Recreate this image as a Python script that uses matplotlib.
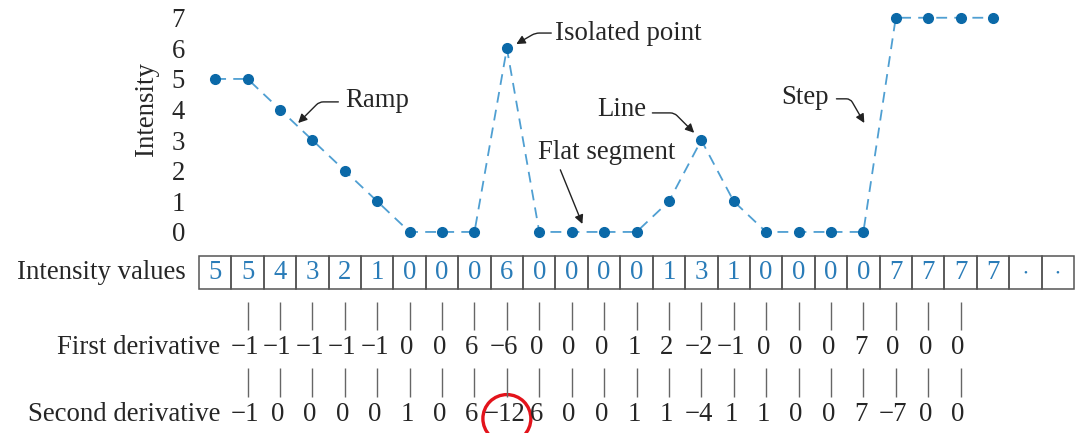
import matplotlib
matplotlib.use('Agg')
import matplotlib.pyplot as plt
from matplotlib.patches import Rectangle, Ellipse

# --- Data ---
intensity = [5, 5, 4, 3, 2, 1, 0, 0, 0, 6, 0, 0, 0, 0, 1, 3, 1, 0, 0, 0, 0, 7, 7, 7, 7]
cell_labels = ['5', '5', '4', '3', '2', '1', '0', '0', '0', '6', '0', '0', '0', '0',
               '1', '3', '1', '0', '0', '0', '0', '7', '7', '7', '7', '•', '•']
first_deriv = [-1, -1, -1, -1, -1, 0, 0, 6, -6, 0, 0, 0, 1, 2, -2, -1, 0, 0, 0, 7, 0, 0, 0]
second_deriv = [-1, 0, 0, 0, 0, 1, 0, 6, -12, 6, 0, 0, 1, 1, -4, 1, 1, 0, 0, 7, -7, 0, 0]
y_ticks = [0, 1, 2, 3, 4, 5, 6, 7]

# --- Style ---
plt.rcParams['font.family'] = ['Liberation Serif', 'DejaVu Serif']
TEXT = '#262626'
DOT = '#0b69a8'
LINE = '#4f9fd2'
CELL_TXT = '#2a7cb8'
FS = 19.3


def fmt(v):
    return str(v).replace('-', '\u2212')


fig = plt.figure(figsize=(10.76, 4.33), dpi=100)
ax = fig.add_axes([199 / 1076, 0, 875 / 1076, 1])
ax.set_xlim(-0.5, 26.5)
ax.set_ylim(-6.57, 7.58)
for s in ax.spines.values():
    s.set_visible(False)

# intensity profile
xs = list(range(len(intensity)))
ax.plot(xs, intensity, color=LINE, lw=1.3, dashes=(6, 4), zorder=2)
ax.plot(xs, intensity, 'o', color=DOT, ms=7, zorder=3)

ax.set_xticks([])
ax.set_yticks(y_ticks)
ax.set_yticklabels([str(t) for t in y_ticks], fontsize=FS, color=TEXT)
ax.tick_params(axis='y', length=0, pad=10)
ax.set_ylabel('Intensity', fontsize=FS, color=TEXT)
ax.yaxis.set_label_coords(-0.046, 0.749)

# table of intensity values
tb_top, tb_bot = -0.78, -1.86
for i, lab in enumerate(cell_labels):
    ax.add_patch(Rectangle((i - 0.5, tb_bot), 1, tb_top - tb_bot, fill=False,
                           ec='#555555', lw=1.1, clip_on=False))
    ax.text(i, (tb_top + tb_bot) / 2 - 0.02, lab, ha='center', va='center',
            fontsize=FS if lab != '•' else 8, color=CELL_TXT)
ax.text(-0.5 - 0.4, (tb_top + tb_bot) / 2, 'Intensity values', ha='right',
        va='center', fontsize=FS, color=TEXT)

# derivative rows
d1x = list(range(1, len(first_deriv) + 1))
ax.vlines(d1x, -3.2, -2.29, color='#666666', lw=1.0)
for x, v in zip(d1x, first_deriv):
    ax.text(x - 0.08, -3.76, fmt(v), ha='center', va='center', fontsize=FS, color=TEXT)
ax.text(0.15, -3.76, 'First derivative', ha='right', va='center', fontsize=FS, color=TEXT)

d2x = list(range(1, len(second_deriv) + 1))
ax.vlines(d2x, -5.39, -4.44, color='#666666', lw=1.0)
for x, v in zip(d2x, second_deriv):
    ax.text(x - 0.08, -5.98, fmt(v), ha='center', va='center', fontsize=FS, color=TEXT)
ax.text(0.15, -5.98, 'Second derivative', ha='right', va='center', fontsize=FS, color=TEXT)

# red circle around the -12
k = second_deriv.index(min(second_deriv))
ax.add_patch(Ellipse((d2x[k], -6.1), 1.48, 1.57, fill=False, ec='#e3131b', lw=2.4,
                     clip_on=False))

# annotations
arrow = dict(arrowstyle='-|>', color='#222222', lw=1.0, mutation_scale=13, shrinkA=0, shrinkB=0)


def note(text, txy, ha, start, tip, conn):
    ax.text(txy[0], txy[1], text, ha=ha, va='center', fontsize=FS, color=TEXT)
    ax.annotate('', xy=tip, xytext=start, arrowprops=dict(arrow, connectionstyle=conn))


note('Ramp', (4.01, 4.31), 'left', (3.8, 4.25), (2.56, 3.56), 'angle,angleA=0,angleB=45,rad=4')
note('Isolated point', (10.49, 6.5), 'left', (10.37, 6.5), (9.29, 6.14), 'angle,angleA=0,angleB=30,rad=4')
note('Line', (13.3, 3.99), 'right', (13.49, 3.89), (14.78, 3.24), 'angle,angleA=0,angleB=135,rad=4')
note('Flat segment', (9.97, 2.61), 'left', (10.65, 2.03), (11.33, 0.26), 'arc3,rad=0')
note('Step', (18.92, 4.41), 'right', (19.17, 4.35), (20.03, 3.56), 'angle,angleA=0,angleB=120,rad=4')

fig.savefig('out.png', dpi=100)
